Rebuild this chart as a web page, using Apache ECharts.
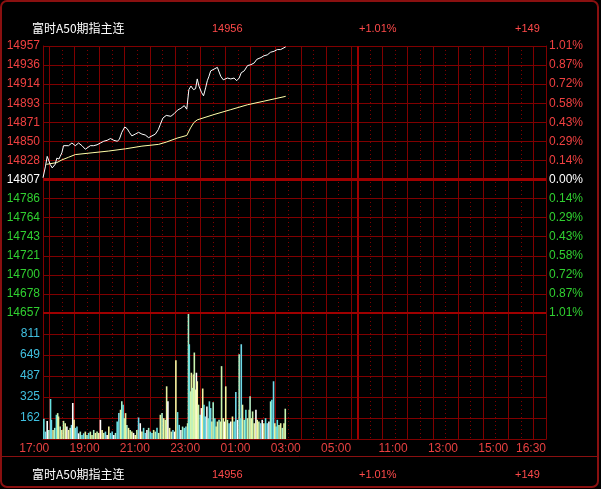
<!DOCTYPE html>
<html><head><meta charset="utf-8">
<script src="https://cdn.jsdelivr.net/npm/echarts/dist/echarts.min.js"></script>
<style>html,body{margin:0;padding:0;background:#000;}#c{width:601px;height:489px;}</style>
</head><body><div id="c"></div>
<script>
// ---------- data ----------
const instrument = '富时A50期指主连';
const basePrice = 14807;           // previous settle (0.00% line)
const priceAxisMin = 14657;
const priceAxisMax = 14957;
const volAxisMax = 973.5;
const xTickLabels = ['17:00','19:00','21:00','23:00','01:00','03:00','05:00','11:00','13:00','15:00','16:30'];

const priceTimes = [
 '16:45','16:51','16:55','16:59','17:02','17:07','17:11','17:14','17:18','17:23',
 '17:26','17:30','17:34','17:38','17:46','17:54','18:02','18:10','18:18','18:26',
 '18:30','18:38','18:46','18:54','19:02','19:10','19:18','19:26','19:34','19:42',
 '19:47','19:53','20:00','20:06','20:11','20:17','20:25','20:33','20:41','20:49',
 '20:57','21:05','21:13','21:20','21:25','21:31','21:39','21:42','21:50','21:58',
 '22:06','22:14','22:22','22:28','22:31','22:33','22:38','22:44','22:49','22:53',
 '22:57','23:03','23:08','23:13','23:17','23:21','23:25','23:33','23:41','23:45',
 '23:49','23:55','00:05','00:13','00:21','00:27','00:33','00:38','00:45','00:53',
 '01:01','01:09','01:15','01:25','01:32','01:40','01:48','01:56','02:04','02:12',
 '02:20','02:24'];
const priceValues = [
 14809,14822,14833,14828,14824,14820,14818,14824,14831,14830,
 14833,14837,14845,14846,14845,14848,14845,14848,14845,14841,
 14839,14845,14845,14846,14848,14850,14851,14853,14851,14850,
 14852,14860,14866,14864,14860,14856,14858,14860,14858,14857,
 14854,14856,14858,14863,14869,14876,14879,14880,14878,14881,
 14885,14887,14890,14886,14884,14908,14912,14908,14909,14920,
 14912,14905,14901,14910,14918,14923,14929,14931,14933,14934,
 14923,14919,14921,14920,14921,14918,14921,14927,14929,14935,
 14936,14938,14942,14944,14946,14947,14950,14951,14953,14953,
 14955,14956];

const avgTimes  = ['16:53','17:18','17:30','17:46','18:02','18:42','19:22','20:02','20:41','21:21','21:39','22:05','22:28','22:37','22:45','22:53','23:33','00:13','00:53','01:32','02:20','02:24'];
const avgValues = [14824,14826,14829,14832,14835,14837,14839,14841.5,14844.5,14846.5,14849,14853.5,14856.5,14865,14871,14874,14880,14885.5,14891,14895,14900,14900.5];

const volTimes = [
 '16:47','16:51','16:55','16:59','17:03','17:05','17:09','17:13','17:17','17:20',
 '17:22','17:26','17:30','17:34','17:38','17:42','17:46','17:50','17:53','17:56',
 '17:59','18:02','18:06','18:10','18:14','18:18','18:22','18:26','18:30','18:34',
 '18:38','18:42','18:46','18:50','18:54','18:58','19:02','19:06','19:10','19:14',
 '19:18','19:22','19:26','19:30','19:34','19:38','19:42','19:46','19:50','19:53',
 '19:56','19:59','20:02','20:05','20:09','20:13','20:17','20:21','20:25','20:29',
 '20:33','20:37','20:41','20:45','20:49','20:53','20:57','21:01','21:05','21:09',
 '21:13','21:17','21:21','21:25','21:29','21:33','21:37','21:40','21:43','21:47',
 '21:51','21:55','21:59','22:02','22:06','22:10','22:14','22:18','22:22','22:26',
 '22:30','22:32','22:34','22:37','22:39','22:41','22:44','22:46','22:49','22:51',
 '22:53','22:56','23:00','23:03','23:06','23:09','23:12','23:16','23:19','23:22',
 '23:25','23:28','23:31','23:35','23:38','23:41','23:45','23:49','23:51','23:55',
 '23:58','00:01','00:05','00:09','00:13','00:17','00:21','00:25','00:29','00:33',
 '00:35','00:38','00:41','00:45','00:49','00:53','00:57','00:59','01:02','01:05',
 '01:09','01:13','01:16','01:20','01:24','01:28','01:32','01:36','01:40','01:44',
 '01:48','01:51','01:55','01:58','02:01','02:04','02:08','02:12','02:16','02:20',
 '02:23'];
const volValues = [
 156,57,140,70,309,148,70,86,187,200,
 174,96,70,140,122,96,70,86,109,278,
 148,86,96,44,57,31,44,57,31,47,
 57,31,70,47,57,47,148,70,47,57,
 31,96,47,57,31,47,135,200,226,291,
 265,161,200,109,86,70,57,47,31,70,
 166,122,57,86,47,70,86,57,47,70,
 57,86,47,187,200,161,148,407,291,86,
 57,70,57,608,208,109,70,96,86,96,
 122,971,732,368,512,395,499,668,382,512,
 446,265,187,239,390,265,174,252,161,291,
 239,135,283,161,96,135,148,135,563,161,
 135,407,148,122,135,174,135,364,148,654,
 161,732,265,148,226,161,226,330,161,213,
 122,226,148,135,122,148,122,161,122,135,
 291,304,446,122,96,148,109,122,86,122,
 234];

// ---------- session / category axis ----------
function hhmm(t){ t=((t%1440)+1440)%1440; return String(Math.floor(t/60)).padStart(2,'0')+':'+String(t%60).padStart(2,'0'); }
const nightStart = 16*60+45, nightLen = 750, dayStart = 9*60, dayLen = 450;
const cats = [];
for (let i=0;i<=nightLen+dayLen;i++) cats.push(i<nightLen ? hhmm(nightStart+i) : hhmm(dayStart+i-nightLen));
const sessionBreak = hhmm(dayStart);

const gridColor = '#800000';
const thickColor = '#a00000';
const font = 'Liberation Sans';
const upColor = '#f04040', downColor = '#30d030', flatColor = '#ffffff';
const isHour = i => cats[i].endsWith(':00');
const isHalf = i => cats[i].endsWith(':30');
const isLabel = i => xTickLabels.indexOf(cats[i]) >= 0;

function catAxis(gridIndex, extra){
  return Object.assign({type:'category', gridIndex, data:cats, boundaryGap:false,
    axisLine:{show:false}, axisTick:{show:false}, axisLabel:{show:false}}, extra);
}
const tone = v => { const d = Number(v)-basePrice; return Math.abs(d)<0.01 ? flatColor : (d>0 ? upColor : downColor); };
const volPalette = ['#66e0e0','#f5f5a0','#a8f0c8','#ffffff','#e6f2a0','#70d8e8','#c8f5b0'];

const lastPrice = priceValues[priceValues.length-1];
const change = lastPrice - basePrice;
const pctText = (change>=0?'+':'') + (change/basePrice*100).toFixed(2) + '%';
const chgText = (change>=0?'+':'') + change;

function headerRow(y){
  const numFont = '11px "Liberation Sans"';
  const red = '#ff4a4a';
  return [
    {type:'text', x:32, y:y, style:{text:instrument, fill:'#ffffff', font:'12px "Noto Sans CJK SC"', verticalAlign:'middle'}},
    {type:'text', x:212, y:y, style:{text:String(lastPrice), fill:red, font:numFont, verticalAlign:'middle'}},
    {type:'text', x:359, y:y, style:{text:pctText, fill:red, font:numFont, verticalAlign:'middle'}},
    {type:'text', x:515, y:y, style:{text:chgText, fill:red, font:numFont, verticalAlign:'middle'}}
  ];
}

const chart = echarts.init(document.getElementById('c'), null, {renderer:'canvas', width:601, height:489});
chart.setOption({
  backgroundColor:'#000',
  animation:false,
  grid:[
    {left:43, right:55, top:46, height:267},
    {left:43, right:55, top:313, height:126}
  ],
  xAxis:[
    catAxis(0,{z:1, splitLine:{show:true, interval:(i)=>isHour(i), lineStyle:{color:gridColor, width:1}}}),
    catAxis(0,{z:2, position:'top', splitLine:{show:true, interval:(i)=>isHalf(i), lineStyle:{color:gridColor, width:1, type:[1,3]}}}),
    catAxis(1,{z:1, axisLine:{show:true, lineStyle:{color:gridColor}},
      axisLabel:{show:true, interval:(i)=>isLabel(i), align:'right', color:'#e84040', fontSize:12, fontFamily:font, margin:4},
      splitLine:{show:true, interval:(i)=>isHour(i), lineStyle:{color:gridColor, width:1}}}),
    catAxis(1,{z:2, position:'top', splitLine:{show:true, interval:(i)=>isHalf(i), lineStyle:{color:gridColor, width:1, type:[1,3]}}})
  ],
  yAxis:[
    {type:'value', gridIndex:0, position:'left', z:3, min:priceAxisMin, max:priceAxisMax, interval:(priceAxisMax-priceAxisMin)/14,
     axisLine:{show:true, lineStyle:{color:gridColor}}, axisTick:{show:false},
     splitLine:{show:true, lineStyle:{color:gridColor, width:1}},
     axisLabel:{formatter:v=>String(Math.round(v)), color:tone, fontSize:12, fontFamily:font, margin:3}},
    {type:'value', gridIndex:0, position:'right', z:3, min:priceAxisMin, max:priceAxisMax, interval:(priceAxisMax-priceAxisMin)/14,
     axisLine:{show:true, lineStyle:{color:gridColor}}, axisTick:{show:false}, splitLine:{show:false},
     axisLabel:{formatter:v=>Math.abs((v-basePrice)/basePrice*100).toFixed(2)+'%', color:tone, fontSize:12, fontFamily:font, margin:3}},
    {type:'value', gridIndex:1, position:'left', z:3, min:0, max:volAxisMax, interval:volAxisMax/6,
     axisLine:{show:true, lineStyle:{color:gridColor}}, axisTick:{show:false},
     splitLine:{show:true, lineStyle:{color:gridColor, width:1}},
     axisLabel:{formatter:v=>(v<=0||v>=volAxisMax)?'':String(Math.round(v)), color:'#40c0e0', fontSize:12, fontFamily:font, margin:3}},
    {type:'value', gridIndex:1, position:'right', z:3, min:0, max:volAxisMax,
     axisLine:{show:true, lineStyle:{color:gridColor}}, axisTick:{show:false}, splitLine:{show:false}, axisLabel:{show:false}}
  ],
  series:[
    {type:'line', xAxisIndex:0, yAxisIndex:0, symbol:'none', z:5,
     data:priceTimes.map((t,i)=>[t,priceValues[i]]),
     lineStyle:{color:'#ffffff', width:1},
     markLine:{silent:true, symbol:'none', label:{show:false}, animation:false,
       data:[
         {yAxis:basePrice, lineStyle:{color:thickColor, width:3, type:'solid'}},
         {yAxis:priceAxisMin, lineStyle:{color:thickColor, width:2, type:'solid'}},
         {xAxis:sessionBreak, lineStyle:{color:thickColor, width:2, type:'solid'}}
       ]}},
    {type:'line', xAxisIndex:0, yAxisIndex:0, symbol:'none', z:4,
     data:avgTimes.map((t,i)=>[t,avgValues[i]]),
     lineStyle:{color:'#ffffa8', width:1}},
    {type:'bar', xAxisIndex:2, yAxisIndex:2, barWidth:1.6, z:3,
     data:volTimes.map((t,i)=>[t,volValues[i]]),
     itemStyle:{color:p=>volPalette[(p.dataIndex*5 + Math.floor(p.dataIndex/3)) % volPalette.length]},
     markLine:{silent:true, symbol:'none', label:{show:false}, animation:false,
       data:[{xAxis:sessionBreak, lineStyle:{color:thickColor, width:2, type:'solid'}}]}}
  ],
  graphic:[
    {type:'rect', silent:true, shape:{x:1, y:1, width:597, height:486, r:6}, style:{fill:null, stroke:'#8a1010', lineWidth:2}},
    {type:'line', silent:true, shape:{x1:1, y1:456.5, x2:598, y2:456.5}, style:{stroke:'#8a1010', lineWidth:1}}
  ].concat(headerRow(28.5), headerRow(474.5))
});
</script>
</body></html>
